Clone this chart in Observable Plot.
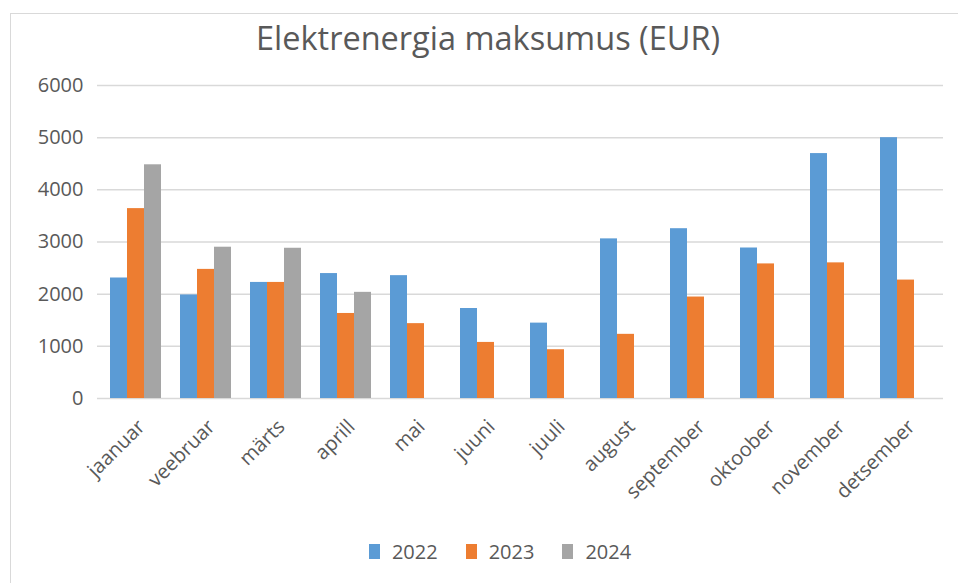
<!DOCTYPE html>
<html>
<head>
<meta charset="utf-8">
<script src="https://cdn.jsdelivr.net/npm/d3@7"></script>
<script src="https://cdn.jsdelivr.net/npm/@observablehq/plot@0.6"></script>
<style>
  html, body { margin: 0; padding: 0; background: #fff; }
  #wrap { position: relative; width: 958px; height: 583px; overflow: hidden; font-family: "Open Sans", sans-serif; color: #595959; }
  #frame { position: absolute; left: 10px; top: 13px; width: 1000px; height: 700px; border-left: 1px solid #d9d9d9; border-top: 1px solid #d9d9d9; }
  #title { position: absolute; left: 0; width: 976px; top: 15px; text-align: center; font-size: 32.5px; color: #595959; white-space: nowrap; }
  .layer { position: absolute; left: 0; top: 0; }
  #legend { position: absolute; top: 538px; left: 0; width: 1000px; display: flex; justify-content: center; gap: 28px; font-size: 20px; color: #595959; }
  #legend .item { display: flex; align-items: center; gap: 12px; }
  #legend .sw { width: 11px; height: 15px; display: inline-block; }
</style>
</head>
<body>
<div id="wrap">
  <div id="frame"></div>
  <div id="title">Elektrenergia maksumus (EUR)</div>
  <div id="bg" class="layer"></div>
  <div id="fg" class="layer"></div>
  <div id="legend"></div>
</div>
<script>
const months = ["jaanuar", "veebruar", "märts", "aprill", "mai", "juuni", "juuli", "august", "september", "oktoober", "november", "detsember"];
const years = ["2022", "2023", "2024"];
const v2022 = [2310, 1985, 2225, 2395, 2355, 1725, 1445, 3060, 3255, 2885, 4695, 5000];
const v2023 = [3640, 2475, 2225, 1630, 1435, 1075, 935, 1230, 1945, 2580, 2600, 2270];
const v2024 = [4480, 2900, 2880, 2035, null, null, null, null, null, null, null, null];
const yTicks = [0, 1000, 2000, 3000, 4000, 5000, 6000];
const colors = ["#5B9BD5", "#ED7D31", "#A5A5A5"];

const series = [v2022, v2023, v2024];
const data = [];
months.forEach((m, i) => {
  years.forEach((y, j) => {
    const v = series[j][i];
    if (v != null) data.push({month: m, year: y, value: v});
  });
});

const W = 958, H = 500;
const common = {
  width: W, height: H,
  marginLeft: 97, marginRight: 15, marginTop: 85, marginBottom: 102,
  style: {background: "transparent", fontFamily: "Open Sans, sans-serif", fontSize: "20px", color: "#595959", overflow: "visible"}
};

const bg = Plot.plot({
  ...common,
  y: {domain: [0, 6000], ticks: yTicks, axis: null},
  marks: [
    Plot.gridY(yTicks, {stroke: "#d9d9d9", strokeOpacity: 1, strokeWidth: 1.5}),
    Plot.axisY(yTicks, {tickSize: 0, tickPadding: 14, label: null, fill: "#595959", tickFormat: d => String(d)})
  ]
});
document.getElementById("bg").appendChild(bg);

const fg = Plot.plot({
  ...common,
  fx: {domain: months, paddingInner: 0.26, paddingOuter: 0.13, label: null, axis: null},
  x: {domain: years, padding: 0, axis: null},
  y: {domain: [0, 6000], axis: null},
  color: {domain: years, range: colors},
  marks: [
    Plot.barY(data, {fx: "month", x: "year", y: "value", fill: "year"}),
    Plot.axisFx({anchor: "bottom", tickSize: 0, tickPadding: 12, tickRotate: -45, label: null, fill: "#595959", dx: 6, dy: 13})
  ]
});
document.getElementById("fg").appendChild(fg);

const legend = document.getElementById("legend");
years.forEach((y, i) => {
  const it = document.createElement("div");
  it.className = "item";
  const sw = document.createElement("span");
  sw.className = "sw";
  sw.style.background = colors[i];
  const t = document.createElement("span");
  t.textContent = y;
  it.appendChild(sw); it.appendChild(t);
  legend.appendChild(it);
});
</script>
</body>
</html>
